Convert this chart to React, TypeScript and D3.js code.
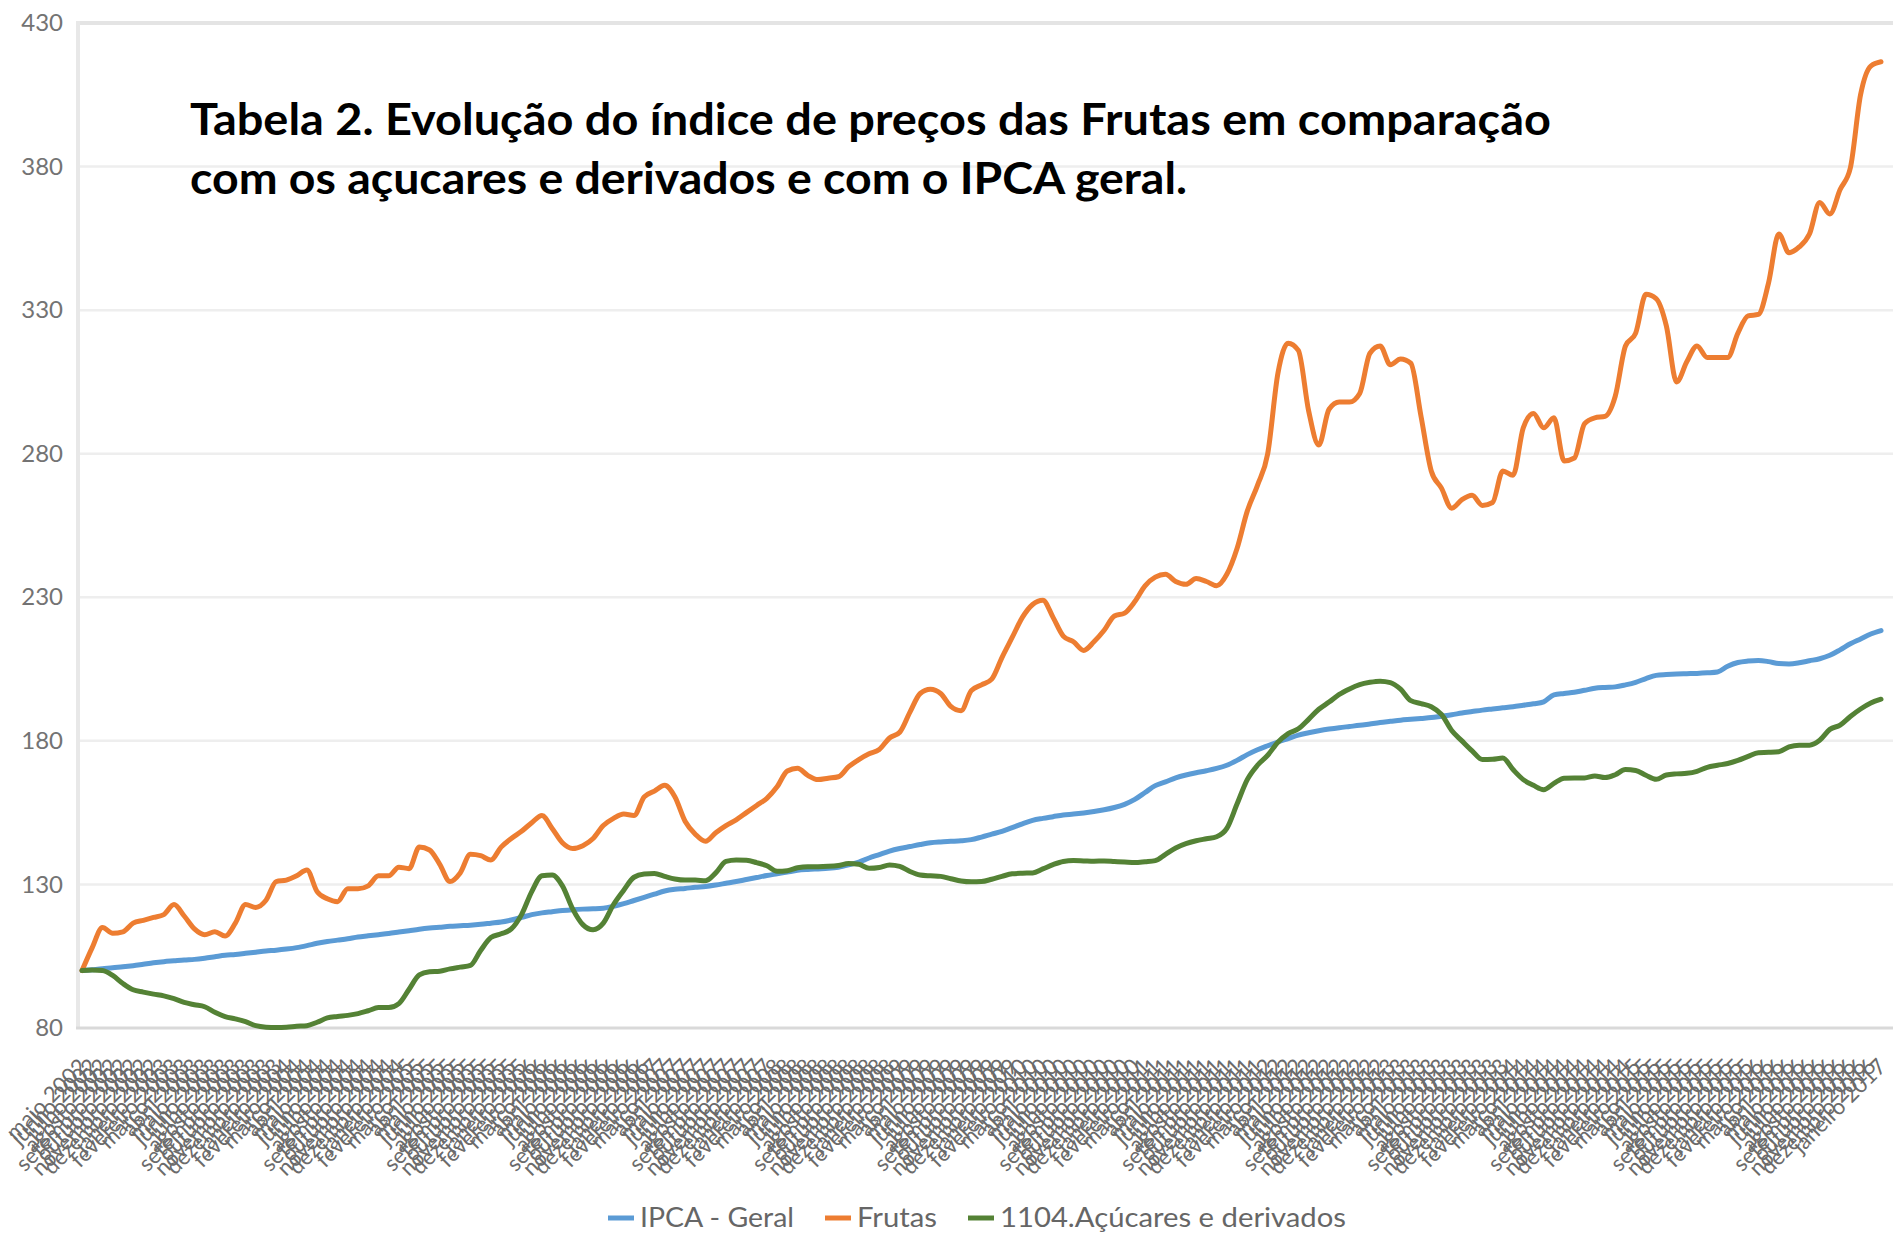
import { useEffect, useRef } from "react";
import * as d3 from "d3";

// month labels (Portuguese), monthly series starting maio 2002
const monthNames = [
  "janeiro", "fevereiro", "março", "abril", "maio", "junho",
  "julho", "agosto", "setembro", "outubro", "novembro", "dezembro",
];
const startYear = 2002;
const startMonth = 4;

const yTicks = [80, 130, 180, 230, 280, 330, 380, 430];

const titleLines = [
  "Tabela 2. Evolução do índice de preços das Frutas em comparação",
  "com os açucares e derivados e com o IPCA geral.",
];

const seriesNames = ["IPCA - Geral", "Frutas", "1104.Açúcares e derivados"];
const seriesColors = ["#5B9BD5", "#ED7D31", "#548235"];

const ipca = [
  100, 100.3, 100.6, 101, 101.3, 101.7, 102.2, 102.7, 103.1, 103.4,
  103.7, 103.9, 104.3, 104.8, 105.3, 105.6, 106, 106.4, 106.8, 107.1,
  107.5, 108, 108.7, 109.5, 110.1, 110.6, 111.1, 111.7, 112.1, 112.5,
  112.9, 113.4, 113.9, 114.4, 114.8, 115.1, 115.4, 115.6, 115.8, 116.1,
  116.5, 116.9, 117.6, 118.5, 119.5, 120.1, 120.5, 120.9, 121.2, 121.4,
  121.5, 121.7, 122.4, 123.3, 124.4, 125.5, 126.6, 127.7, 128.3, 128.6,
  129, 129.3, 129.8, 130.4, 131, 131.7, 132.4, 133.1, 133.7, 134.3,
  134.9, 135.2, 135.4, 135.6, 136, 136.8, 137.8, 139.2, 140.4, 141.6,
  142.5, 143.2, 143.9, 144.5, 144.8, 145, 145.2, 145.6, 146.5, 147.5,
  148.5, 149.8, 151.1, 152.3, 153, 153.6, 154.2, 154.5, 154.9, 155.4,
  156, 156.8, 157.9, 159.6, 162, 164.4, 165.7, 167.1, 168.1, 168.9,
  169.6, 170.4, 171.5, 173.2, 175.2, 176.9, 178.3, 179.6, 180.8, 182,
  182.8, 183.5, 184.1, 184.6, 185, 185.4, 185.9, 186.4, 186.8, 187.2,
  187.5, 187.8, 188.1, 188.6, 189.1, 189.7, 190.2, 190.7, 191.1, 191.5,
  191.9, 192.4, 192.9, 193.6, 196, 196.5, 196.9, 197.6, 198.3, 198.6,
  198.8, 199.5, 200.4, 201.7, 202.8, 203.1, 203.3, 203.4, 203.5, 203.7,
  204, 206, 207.3, 207.8, 208, 207.6, 206.9, 206.8, 207.2, 207.9,
  208.6, 209.8, 211.7, 213.8, 215.5, 217.2, 218.4,
];

const frutas = [
  100, 108, 115, 113, 113.5, 116.5, 117.5, 118.5, 119.5, 123,
  119, 114.5, 112.5, 113.5, 112, 116.5, 123, 122, 124.5, 131,
  131.5, 133, 135, 127.5, 125, 124, 128.5, 128.5, 129.5, 133,
  133, 136, 135.5, 143, 142, 137, 131, 134, 140.5, 140,
  138.5, 143, 146, 148.5, 151.5, 154, 149.5, 144.5, 142.5, 143.5,
  146, 150.5, 153, 154.5, 154, 160.5, 162.5, 164.5, 160.5, 152,
  147.5, 145, 148, 150.5, 152.5, 155, 157.5, 160, 164, 169.5,
  170.5, 168, 166.5, 167, 167.5, 171, 173.5, 175.5, 177, 181,
  183, 190, 196.5, 198, 196.5, 192, 190.5, 197.5, 199.5, 201.5,
  209, 216, 223, 227.5, 229, 223, 216.5, 214.5, 211.5, 214.5,
  218.5, 223.5, 224.5, 228.5, 234, 237, 238, 235.5, 234.5, 236.5,
  235.5, 234, 238, 247, 260, 269, 280, 308, 318.5, 316,
  295, 283, 295.5, 298, 298, 301, 315, 317.5, 311, 313,
  311.5, 293, 274, 268, 261, 264, 265.5, 262, 263, 274,
  272.5, 289, 294, 289, 292.5, 277.5, 278.5, 290.5, 292.5, 293,
  300, 317.5, 322, 335.5, 334, 324.5, 305, 312, 317.5, 313.5,
  313.5, 313.5, 322, 328, 328.5, 339.5, 356.5, 350, 352, 356.5,
  367.5, 363.5, 372, 379.5, 405, 415, 416.5,
];

const acucares = [
  100, 100.2, 100, 98.3, 95.5, 93.3, 92.5, 91.8, 91.2, 90.2,
  88.9, 88.1, 87.4, 85.5, 84, 83.2, 82.2, 80.8, 80.3, 80.2,
  80.3, 80.6, 80.8, 82, 83.5, 84, 84.4, 85, 86, 87.1,
  87.1, 88.5, 93.5, 98.5, 99.6, 99.8, 100.6, 101.2, 101.8, 107,
  111.5, 112.8, 114.5, 119.5, 127.5, 133, 133.3, 129.5, 121.5, 116,
  114.2, 116.5, 123, 128, 132.5, 133.6, 133.8, 132.8, 131.9, 131.5,
  131.5, 131.3, 134, 138, 138.5, 138.4, 137.6, 136.5, 134.6, 134.8,
  135.8, 136.2, 136.2, 136.3, 136.6, 137.3, 137, 135.6, 135.9, 136.8,
  136.3, 134.5, 133.3, 133, 132.8, 132, 131.2, 130.9, 131, 131.8,
  132.8, 133.7, 133.9, 134, 135.4, 136.9, 138, 138.3, 138.2, 138.1,
  138.2, 138, 137.8, 137.6, 137.9, 138.3, 140.5, 142.7, 144.2, 145.2,
  145.9, 146.6, 149.5, 158, 166.5, 171.5, 175, 179.5, 182.5, 184.2,
  187.5, 191, 193.5, 196.2, 198.1, 199.6, 200.4, 200.8, 200.3, 198,
  194, 193, 191.9, 189.2, 183.6, 180, 176.5, 173.5, 173.6, 174,
  170, 166.5, 164.5, 163, 165.2, 167, 167.1, 167.1, 167.8, 167.2,
  168.2, 170, 169.7, 168, 166.6, 168.1, 168.5, 168.7, 169.4, 170.8,
  171.5, 172.1, 173.2, 174.6, 175.9, 176, 176.2, 177.9, 178.5, 178.5,
  180.2, 184, 185.5, 188.5, 191.1, 193.2, 194.5,
];

const categories = frutas.map((_, i) => {
  const m = startMonth + i;
  return `${monthNames[m % 12]} ${startYear + Math.floor(m / 12)}`;
});

export default function App() {
  const svgRef = useRef(null);

  useEffect(() => {
    const svg = d3.select(svgRef.current);
    svg.selectAll("*").remove();

    const width = 1893;
    const height = 1235;
    const margin = { top: 23, right: 12, bottom: 207, left: 82 };
    const bottomY = height - margin.bottom;
    const font = "Lato, 'Open Sans', sans-serif";

    const x = d3
      .scalePoint()
      .domain(categories)
      .range([margin.left, width - margin.right]);

    const y = d3
      .scaleLinear()
      .domain([80, 430])
      .range([bottomY, margin.top]);

    svg.append("rect").attr("width", width).attr("height", height).attr("fill", "#fff");

    // gridlines
    svg
      .append("g")
      .selectAll("line")
      .data(yTicks.filter((t) => t > 80))
      .enter()
      .append("line")
      .attr("x1", margin.left - 4)
      .attr("x2", width)
      .attr("y1", (d) => y(d))
      .attr("y2", (d) => y(d))
      .attr("stroke", (d) => (d === 430 ? "#e4e4e4" : "#eeeeee"))
      .attr("stroke-width", (d) => (d === 430 ? 4 : 2.5));

    // axis lines
    svg
      .append("line")
      .attr("x1", margin.left - 4)
      .attr("x2", margin.left - 4)
      .attr("y1", margin.top - 2)
      .attr("y2", bottomY)
      .attr("stroke", "#e8e8e8")
      .attr("stroke-width", 4);
    svg
      .append("line")
      .attr("x1", margin.left - 6)
      .attr("x2", width)
      .attr("y1", bottomY)
      .attr("y2", bottomY)
      .attr("stroke", "#d9d9d9")
      .attr("stroke-width", 3);

    // y axis labels
    const yAxis = svg
      .append("g")
      .attr("transform", `translate(${margin.left - 4},0)`)
      .call(d3.axisLeft(y).tickValues(yTicks).tickSize(0).tickPadding(15));
    yAxis.select(".domain").remove();
    yAxis
      .selectAll("text")
      .attr("font-family", font)
      .attr("font-size", 24)
      .attr("fill", "#737373");

    // x axis labels (monthly, rotated)
    const xAxis = svg
      .append("g")
      .attr("transform", `translate(0,${bottomY})`)
      .call(d3.axisBottom(x).tickSize(0));
    xAxis.select(".domain").remove();
    xAxis
      .selectAll("text")
      .attr("x", 0)
      .attr("y", 0)
      .attr("dy", 0)
      .attr("transform", "translate(6,40) rotate(-45)")
      .style("text-anchor", "end")
      .attr("font-family", font)
      .attr("font-size", 22)
      .attr("fill", "#6b6b6b");

    // lines
    const line = d3
      .line()
      .x((d, i) => x(categories[i]))
      .y((d) => y(d))
      .curve(d3.curveMonotoneX);

    const series = [ipca, frutas, acucares];
    svg
      .append("g")
      .selectAll("path")
      .data(series)
      .enter()
      .append("path")
      .attr("d", (d) => line(d))
      .attr("fill", "none")
      .attr("stroke", (d, i) => seriesColors[i])
      .attr("stroke-width", 5)
      .attr("stroke-linejoin", "round")
      .attr("stroke-linecap", "round");

    // title
    const title = svg.append("g").attr("font-family", font).attr("font-weight", 700).attr("font-size", 44);
    const titleWidths = [1361, 997];
    titleLines.forEach((t, i) => {
      title
        .append("text")
        .attr("x", 190)
        .attr("y", 135 + i * 59)
        .attr("textLength", titleWidths[i])
        .attr("lengthAdjust", "spacingAndGlyphs")
        .attr("fill", "#000")
        .text(t);
    });

    // legend
    const legendX = [608, 825, 968];
    const legendW = [154, 80, 346];
    const legend = svg.append("g").attr("transform", "translate(0,1218)");
    seriesNames.forEach((name, i) => {
      legend
        .append("line")
        .attr("x1", legendX[i])
        .attr("x2", legendX[i] + 26)
        .attr("stroke", seriesColors[i])
        .attr("stroke-width", 5);
      legend
        .append("text")
        .attr("x", legendX[i] + 32)
        .attr("y", 9)
        .attr("font-family", font)
        .attr("font-size", 26)
        .attr("fill", "#666")
        .attr("textLength", legendW[i])
        .attr("lengthAdjust", "spacingAndGlyphs")
        .text(name);
    });
  }, []);

  return (
    <svg
      ref={svgRef}
      width={1893}
      height={1235}
      style={{ position: "fixed", left: 0, top: 0 }}
    />
  );
}
